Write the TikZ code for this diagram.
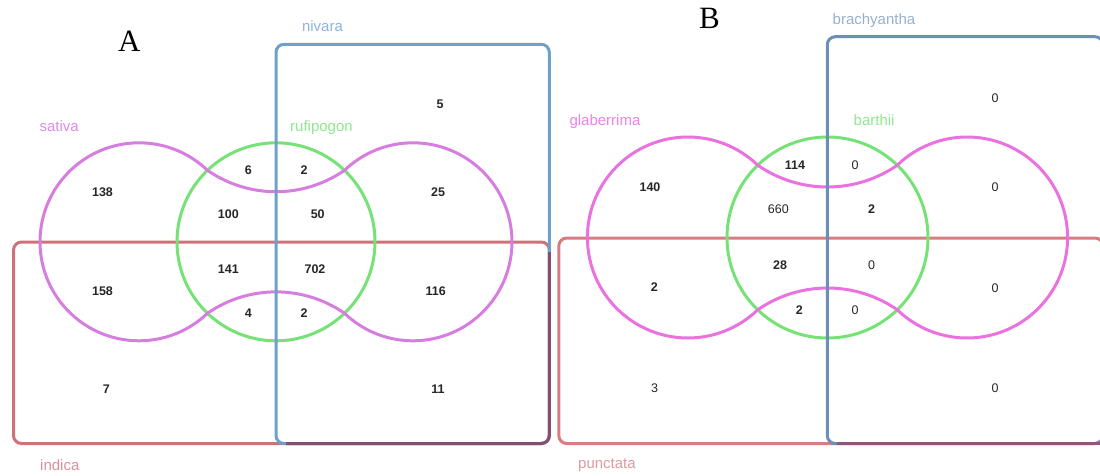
\documentclass[tikz,border=0pt]{standalone}
\usepackage{fontspec}
\setmainfont{Liberation Sans}
\newfontfamily\panelfont{Liberation Serif}
\definecolor{magA}{HTML}{D67EDF}
\definecolor{magB}{HTML}{EA72E0}
\definecolor{grn}{HTML}{76E276}
\definecolor{blueA}{HTML}{6EA0CD}
\definecolor{blueB}{HTML}{6A90B8}
\definecolor{redA}{HTML}{CD7378}
\definecolor{redB}{HTML}{D77D82}
\definecolor{ovA}{HTML}{835073}
\definecolor{ovB}{HTML}{8E5775}
\definecolor{labMagA}{HTML}{E08AE8}
\definecolor{labMagB}{HTML}{EE82E6}
\definecolor{labGrn}{HTML}{8EE88E}
\definecolor{labBlueA}{HTML}{8CB4DC}
\definecolor{labBlueB}{HTML}{98B0CC}
\definecolor{labRedA}{HTML}{DC9098}
\definecolor{labRedB}{HTML}{E0999E}
% #1 gx, #2 gy, #3 r, #4 h, #5 s, #6 style
\newcommand\dumbbell[6]{%
  \pgfmathsetmacro\dbdy{sqrt(#3*#3-#4*#4)}%
  \pgfmathsetmacro\dbth{atan2(\dbdy,#4)}%
  \pgfmathsetmacro\dbR{(#4*#4+#5*#5)/(2*#5)}%
  \pgfmathsetmacro\dbph{atan2(\dbR-#5,#4)}%
  \draw[#6] ({#1-#4},{#2-\dbdy})
    arc[start angle={-\dbth}, end angle={-360+\dbth}, radius=#3]
    arc[start angle={\dbph-180}, end angle={-\dbph}, radius=\dbR]
    arc[start angle={180-\dbth}, end angle={-180+\dbth}, radius=#3]
    arc[start angle={\dbph}, end angle={180-\dbph}, radius=\dbR]
    -- cycle;%
}
\begin{document}
\begin{tikzpicture}[x=1pt,y=-1pt,
  num/.style={font=\fontsize{12.5}{14}\selectfont\bfseries, text=black!85, inner sep=0pt},
  numr/.style={font=\fontsize{12.5}{14}\selectfont, text=black!85, inner sep=0pt},
  lab/.style={font=\fontsize{15}{17}\selectfont, inner sep=0pt, anchor=base west},
  panel/.style={font=\panelfont\fontsize{31}{34}\selectfont, inner sep=0pt, anchor=base west},
  setline/.style={line width=3pt},
]
\useasboundingbox (0,0) rectangle (1100,475);
\clip (0,0) rectangle (1100,475);

% ---------------- Panel A ----------------
\draw[setline, redA, rounded corners=8] (13.5,242) rectangle (549.3,443.5);
\draw[setline, grn] (276,241.8) circle[radius=99];
\dumbbell{276}{241.8}{99}{68.5}{21.4}{setline, magA}
\draw[setline, blueA, rounded corners=8] (276,44.3) rectangle (549.3,443.5);
\draw[setline, ovA, rounded corners=8] (549.3,252) -- (549.3,443.5) -- (286,443.5);

\node[panel] (pA) at (117.9,51.7) {A};
\node[lab, text=labBlueA] (lnivara) at (301.8,31.7) {nivara};
\node[lab, text=labMagA] (lsativa) at (39.3,131) {sativa};
\node[lab, text=labGrn] (lrufi) at (290,131) {rufipogon};
\node[lab, text=labRedA] (lindica) at (40,470) {indica};

\node[num] (a5) at (440,104) {5};
\node[num] (a138) at (102.5,192.3) {138};
\node[num] (a6) at (248.3,170.3) {6};
\node[num] (a2t) at (304,170.3) {2};
\node[num] (a25) at (438,192.3) {25};
\node[num] (a100) at (228.3,213.7) {100};
\node[num] (a50) at (317.7,213.7) {50};
\node[num] (a141) at (228.3,268.7) {141};
\node[num] (a702) at (315,268.7) {702};
\node[num] (a158) at (102.5,290.7) {158};
\node[num] (a4) at (248.3,313) {4};
\node[num] (a2b) at (304,313) {2};
\node[num] (a116) at (435.7,290.7) {116};
\node[num] (a7) at (106.4,389.3) {7};
\node[num] (a11) at (437.9,389.3) {11};

% ---------------- Panel B ----------------
\draw[setline, redB, rounded corners=8] (558.8,238) rectangle (1103,443.5);
\draw[setline, grn] (827.5,237.5) circle[radius=100.5];
\dumbbell{827.5}{237.5}{100.5}{69.8}{21.8}{setline, magB}
\draw[setline, blueB, rounded corners=8] (827.3,36.7) rectangle (1103,443.5);
\draw[setline, ovB] (837,443.5) -- (1100,443.5);

\node[panel] (pB) at (699,28.3) {B};
\node[lab, text=labBlueB] (lbrachy) at (832.5,24) {brachyantha};
\node[lab, text=labMagB] (lglab) at (569.3,125) {glaberrima};
\node[lab, text=labGrn] (lbarthii) at (853.5,125) {barthii};
\node[lab, text=labRedB] (lpunct) at (578,468.3) {punctata};

\node[numr] (b0a) at (995,98.3) {0};
\node[num] (b114) at (795,165) {114};
\node[numr] (b0b) at (855,165) {0};
\node[num] (b140) at (650,187.3) {140};
\node[numr] (b0c) at (995,187.3) {0};
\node[numr] (b660) at (778.3,209.3) {660};
\node[num] (b2a) at (871.7,209.3) {2};
\node[num] (b28) at (780,265.3) {28};
\node[numr] (b0d) at (871.7,265.3) {0};
\node[num] (b2b) at (654.3,287.3) {2};
\node[numr] (b0e) at (995,288.3) {0};
\node[num] (b2c) at (799.3,310) {2};
\node[numr] (b0f) at (855,310) {0};
\node[numr] (b3) at (654.6,388.3) {3};
\node[numr] (b0g) at (995,388.3) {0};
\end{tikzpicture}
\end{document}
